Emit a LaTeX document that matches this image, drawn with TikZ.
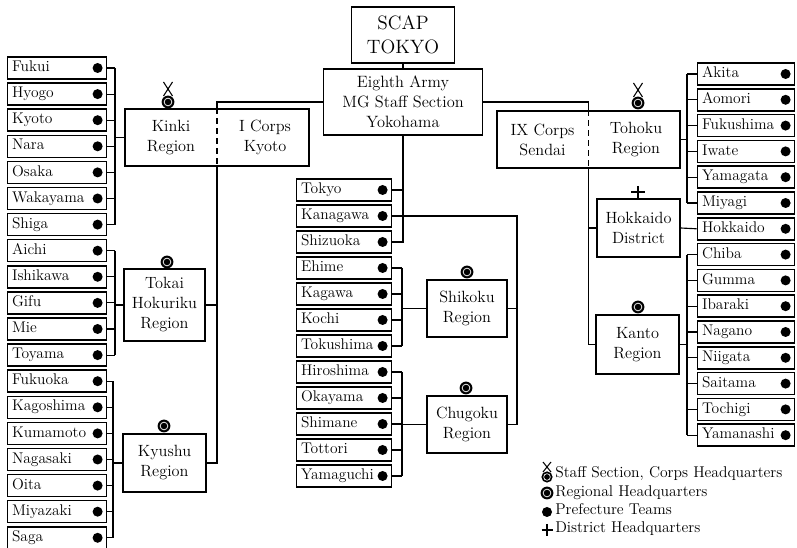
\documentclass[tikz,border=0pt]{standalone}
\usepackage{fontspec}
\begin{document}
\begin{tikzpicture}[x=0.75pt,y=-0.75pt,
  conn/.style={line width=0.85pt},
  divider/.style={line width=0.85pt, dash pattern=on 4.5pt off 3pt},
  box/.style={draw, line width=1.1pt, inner sep=0pt},
  regbox/.style={box, align=center, font=\fontsize{12.2}{15}\selectfont},
  regtext/.style={align=center, inner sep=0pt, font=\fontsize{12.2}{15}\selectfont},
  pref/.style={box, inner xsep=3.5pt, minimum height=16.5pt, align=left,
    text height=8.5pt, text depth=3pt, font=\fontsize{11.6}{13}\selectfont,
    path picture={\fill ([xshift=-6.75pt]path picture bounding box.east) circle (3.75pt);}},
  prefL/.style={pref, text width=67.4pt},
  prefC/.style={pref, text width=64.4pt},
  prefR/.style={pref, text width=65.9pt},
  legend/.style={anchor=base west, inner sep=0pt, font=\fontsize{11.7}{13}\selectfont},
  picrhq/.pic={\fill (0,0) circle (4.8pt); \draw[white, line width=0.55pt] (0,0) circle (2.9pt);},
  picstaff/.pic={\fill (0,0) circle (4.8pt); \draw[white, line width=0.55pt] (0,0) circle (2.9pt);
     \draw[line width=0.8pt] (-4.5,-20) -- (4.5,-6) (4.5,-20) -- (-4.5,-6);},
  piclegstaff/.pic={\fill (0,0) circle (4.2pt); \draw[white, line width=0.5pt] (0,0) circle (2.5pt);
     \draw[line width=0.8pt] (-4,-15) -- (4,-5) (4,-15) -- (-4,-5);},
  picplus/.pic={\draw[line width=1pt] (-7,0) -- (7,0) (0,-6) -- (0,7);},
  piclegplus/.pic={\draw[line width=1pt] (-5.5,0) -- (5.5,0) (0,-6) -- (0,6);}
]
\useasboundingbox (0,0) rectangle (797,548);

% top boxes
\node[regbox, minimum width=77.25pt, minimum height=42pt, font=\fontsize{14.5}{18}\selectfont] (scap) at (403,35) {SCAP\\TOKYO};
\node[regbox, minimum width=119.25pt, minimum height=49.5pt, font=\fontsize{12.3}{15}\selectfont] (eighth) at (403,102) {Eighth Army\\MG Staff Section\\Yokohama};

% region boxes
\node[box, minimum width=138pt, minimum height=42.75pt] (kinki) at (217,137.5) {};
\node[regtext] (kinkit) at (171,137.5) {Kinki\\Region};
\node[regtext] (icorps) at (265,137.5) {I Corps\\Kyoto};
\node[regbox, minimum width=60.75pt, minimum height=54pt] (tokai) at (164.5,305) {Tokai\\Hokuriku\\Region};
\node[regbox, minimum width=62.25pt, minimum height=43.5pt] (kyushu) at (164.5,463) {Kyushu\\Region};
\node[regbox, minimum width=60pt, minimum height=42.75pt] (shikoku) at (467,308.5) {Shikoku\\Region};
\node[regbox, minimum width=60pt, minimum height=42.75pt] (chugoku) at (467,424.5) {Chugoku\\Region};
\node[box, minimum width=137.25pt, minimum height=42.75pt] (tohoku) at (588.5,139.5) {};
\node[regtext] (ixcorps) at (542.5,139.5) {IX Corps\\Sendai};
\node[regtext] (tohokut) at (636,139.5) {Tohoku\\Region};
\node[regbox, minimum width=62.25pt, minimum height=43.5pt] (hokkaidod) at (638.5,228) {Hokkaido\\District};
\node[regbox, minimum width=62.25pt, minimum height=44.25pt] (kanto) at (637.5,344.5) {Kanto\\Region};

% prefecture boxes, left
\foreach \n/\t [count=\i from 0] in {fukui/Fukui, hyogo/Hyogo, kyoto/Kyoto, nara/Nara, osaka/Osaka, wakayama/Wakayama, shiga/Shiga, aichi/Aichi, ishikawa/Ishikawa, gifu/Gifu, mie/Mie, toyama/Toyama, fukuoka/Fukuoka, kagoshima/Kagoshima, kumamoto/Kumamoto, nagasaki/Nagasaki, oita/Oita, miyazaki/Miyazaki, saga/Saga}
  \node[prefL] (\n) at (57,68+26.1*\i) {\t};
% centre
\foreach \n/\t [count=\i from 0] in {tokyo/Tokyo, kanagawa/Kanagawa, shizuoka/Shizuoka, ehime/Ehime, kagawa/Kagawa, kochi/Kochi, tokushima/Tokushima, hiroshima/Hiroshima, okayama/Okayama, shimane/Shimane, tottori/Tottori, yamaguchi/Yamaguchi}
  \node[prefC] (\n) at (344,190+26*\i) {\t};
% right
\foreach \n/\t [count=\i from 0] in {akita/Akita, aomori/Aomori, fukushima/Fukushima, iwate/Iwate, yamagata/Yamagata, miyagi/Miyagi, hokkaido/Hokkaido, chiba/Chiba, gumma/Gumma, ibaraki/Ibaraki, nagano/Nagano, niigata/Niigata, saitama/Saitama, tochigi/Tochigi, yamanashi/Yamanashi}
  \node[prefR] (\n) at (746,74+25.8*\i) {\t};

% bracket positions
\coordinate (bxL) at (115,0);
\coordinate (bxK) at (113,0);
\coordinate (bxC) at (402,0);
\coordinate (bxR) at (687,0);
\coordinate (kc) at (517,216);

% top connectors
\draw[conn] (scap.south) -- (eighth.north);
\draw[conn] (eighth.west) -- (eighth.west -| kinki.north) -- (kinki.north);
\draw[divider] (kinki.north) -- (kinki.south);
\draw[conn] (kinki.south) -- (kinki.south |- kyushu.east) -- (kyushu.east);
\draw[conn] (tokai.east) -- (tokai.east -| kinki.south);
\draw[conn] (eighth.east) -- (eighth.east -| tohoku.north) -- (tohoku.north);
\draw[divider] (tohoku.north) -- (tohoku.south);
\draw[conn] (tohoku.south) -- (tohoku.south |- kanto.west) -- (kanto.west);
\draw[conn] (hokkaidod.west) -- (hokkaidod.west -| tohoku.south);
\draw[conn] (hokkaidod.east) -- (hokkaido.west);

% left brackets
\foreach \n in {fukui, hyogo, kyoto, nara, osaka, wakayama, shiga, aichi, ishikawa, gifu, mie, toyama}
  \draw[conn] (\n.east) -- (\n.east -| bxL);
\foreach \n in {fukuoka, kagoshima, kumamoto, nagasaki, oita, miyazaki, saga}
  \draw[conn] (\n.east) -- (\n.east -| bxK);
\draw[conn] (fukui.east -| bxL) -- (shiga.east -| bxL);
\draw[conn] (kinki.west) -- (kinki.west -| bxL);
\draw[conn] (aichi.east -| bxL) -- (toyama.east -| bxL);
\draw[conn] (tokai.west) -- (tokai.west -| bxL);
\draw[conn] (fukuoka.east -| bxK) -- (saga.east -| bxK);
\draw[conn] (kyushu.west) -- (kyushu.west -| bxK);

% centre
\draw[conn] (eighth.south) -- (eighth.south |- shizuoka.east) -- (shizuoka.east);
\draw[conn] (tokyo.east) -- (tokyo.east -| eighth.south);
\draw[conn] (kanagawa.east) -- (kc) -- (kc |- chugoku.east) -- (chugoku.east);
\draw[conn] (shikoku.east) -- (shikoku.east -| kc);
\foreach \n in {ehime, kagawa, kochi, tokushima, hiroshima, okayama, shimane, tottori, yamaguchi}
  \draw[conn] (\n.east) -- (\n.east -| bxC);
\draw[conn] (ehime.east -| bxC) -- (tokushima.east -| bxC);
\draw[conn] (shikoku.west) -- (shikoku.west -| bxC);
\draw[conn] (hiroshima.east -| bxC) -- (yamaguchi.east -| bxC);
\draw[conn] (chugoku.west) -- (chugoku.west -| bxC);

% right brackets
\foreach \n in {akita, aomori, fukushima, iwate, yamagata, miyagi, chiba, gumma, ibaraki, nagano, niigata, saitama, tochigi, yamanashi}
  \draw[conn] (\n.west) -- (\n.west -| bxR);
\draw[conn] (akita.west -| bxR) -- (miyagi.west -| bxR);
\draw[conn] (tohoku.east) -- (tohoku.east -| bxR);
\draw[conn] (chiba.west -| bxR) -- (yamanashi.west -| bxR);
\draw[conn] (kanto.east) -- (kanto.east -| bxR);

% symbols
\pic at (168,102) {picstaff};
\pic at (167,262) {picrhq};
\pic at (164,426) {picrhq};
\pic at (467,272) {picrhq};
\pic at (466,388) {picrhq};
\pic at (638,103) {picstaff};
\pic at (638,192) {picplus};
\pic at (638,307) {picrhq};

% legend
\pic at (547,477) {piclegstaff};
\pic at (547,493) {picrhq};
\fill (547,512) circle (3.75pt);
\pic at (547,530) {piclegplus};
\node[legend] (leg1) at (555,478) {Staff Section, Corps Headquarters};
\node[legend] (leg2) at (555,497) {Regional Headquarters};
\node[legend] (leg3) at (555,515) {Prefecture Teams};
\node[legend] (leg4) at (555,533) {District Headquarters};
\end{tikzpicture}
\end{document}
